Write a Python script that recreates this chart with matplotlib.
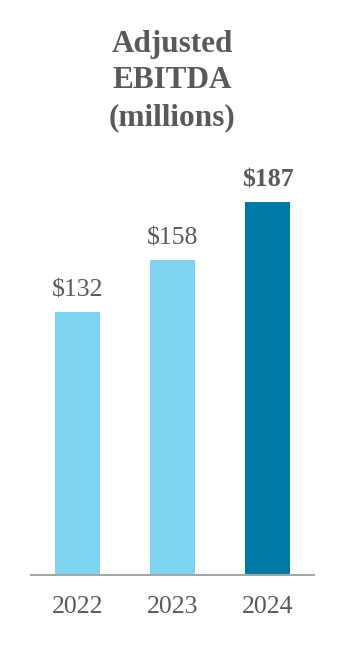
import matplotlib
matplotlib.use("Agg")
import matplotlib.pyplot as plt

years = ["2022", "2023", "2024"]
ebitda = [132, 158, 187]
labels = ["$132", "$158", "$187"]

text_color = "#595959"
colors = ["#7fd3f1", "#7fd3f1", "#0079a6"]

plt.rcParams["font.family"] = ["Liberation Serif", "DejaVu Serif"]

fig = plt.figure(figsize=(3.44, 6.52), dpi=100)
ax = fig.add_axes([31 / 344, 77 / 652, 283 / 344, 425 / 652])

x = list(range(len(years)))
ax.bar(x, ebitda, width=0.48, color=colors)

for i, (v, lab) in enumerate(zip(ebitda, labels)):
    bold = i == len(years) - 1
    ax.text(i, v + 5, lab, ha="center", va="bottom", fontsize=18.5,
            color=text_color, fontweight="bold" if bold else "normal")

ax.set_xlim(-0.49, 2.49)
ax.set_ylim(0, 425 / 1.995)
ax.set_xticks(x)
ax.set_xticklabels(years, fontsize=18.5, color=text_color)
ax.tick_params(axis="x", length=0, pad=15)
ax.set_yticks([])
for s in ["top", "right", "left"]:
    ax.spines[s].set_visible(False)
ax.spines["bottom"].set_color("#a6a6a6")
ax.spines["bottom"].set_linewidth(1.5)

fig.text(0.5, 1 - 81 / 652, "Adjusted\nEBITDA\n(millions)", ha="center", va="center",
         fontsize=22.5, fontweight="bold", color=text_color, linespacing=1.36)

fig.savefig("out.png", dpi=100)
